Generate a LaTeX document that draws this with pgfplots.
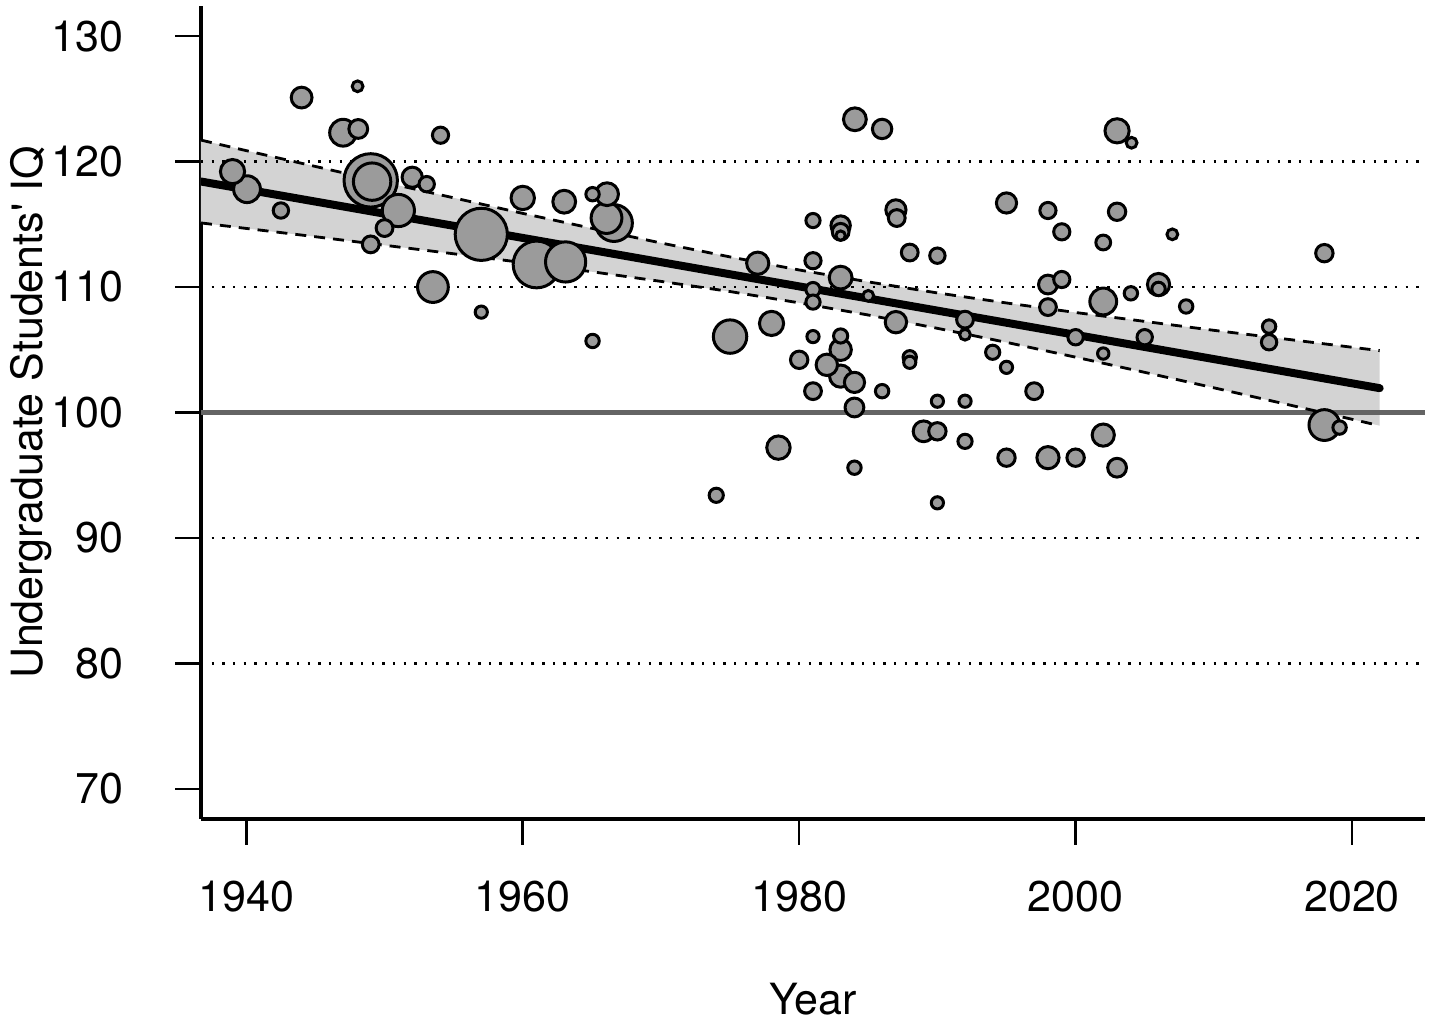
\documentclass[border=0pt]{standalone}
\usepackage{fontspec}
\setmainfont{TeX Gyre Heros}
\usepackage{pgfplots}
\usepackage{pgfplotstable}
\pgfplotsset{compat=1.18}
\usepgfplotslibrary{fillbetween}
\definecolor{bandgray}{RGB}{211,211,211}
\definecolor{ptgray}{RGB}{155,155,155}
\definecolor{refgray}{RGB}{100,100,100}
\newcommand{\lblfont}{\fontsize{21.5}{26}\selectfont}

\pgfplotstableread{
year iq r
1949.0 118.5 27.3
1957.0 114.2 26.7
1961.0 111.8 24
1963.1 112.0 20.7
1949.1 118.4 19.3
1966.6 115.1 19
1975.0 106.05 17.3
1951.0 116.1 16.7
1953.5 110.0 16
1966.06 115.5 16
2018.0 99.0 16
1947.0 122.3 14
1940.05 117.8 14
2002.0 108.85 14
1939.0 119.2 12.7
1978.0 107.1 12.7
2003.0 122.45 12.7
1960.0 117.1 12.3
1978.5 97.2 12.3
1963.0 116.8 12
1966.1 117.4 12
1984.03 123.37 12
1983.0 110.75 12
1977.0 111.9 11.7
1983.0 102.9 11.7
1998.0 96.4 11.7
2006.0 110.2 11.7
2002.0 98.2 11.7
1987.0 107.2 11.3
1983.0 105.0 11.3
1982.0 103.8 11.3
1944.0 125.1 11
1989.0 98.5 11
1952.0 118.75 10.7
1987.0 116.15 10.7
1995.0 116.7 10.7
1984.0 102.4 10.7
1986.0 122.6 10.3
1983.0 114.9 10.3
1948.1 122.6 10
1998.0 110.2 10
1984.0 100.4 10
2003.0 95.6 10
1980.0 104.2 9.3
1990.0 98.5 9.3
1995.0 96.4 9.3
2003.0 116.0 9.3
2018.0 112.7 9.3
2000.0 96.4 9.3
1950.0 114.7 9
1949.0 113.4 9
1987.06 115.5 9
1983.0 114.4 9
1988.0 112.75 9
1998.0 108.4 9
1992.0 107.4 9
1981.0 101.7 9
1997.0 101.7 9
1954.05 122.1 8.7
1998.0 116.1 8.7
1999.0 114.4 8.7
1981.0 112.1 8.7
1999.0 110.6 8.7
1942.5 116.1 8.3
1953.05 118.2 8.3
1990.0 112.5 8.3
2014.0 105.6 8.3
2000.0 106.0 8.3
2005.0 106.0 8.3
2002.0 113.55 8
1981.0 115.3 7.7
1981.0 109.8 7.7
1981.0 108.8 7.7
1983.0 106.1 7.7
1994.0 104.8 7.7
1992.0 97.7 7.7
1974.0 93.4 7.7
1965.05 105.7 7.3
1965.05 117.4 7.3
1988.0 104.4 7.3
1986.0 101.7 7.3
1984.0 95.6 7.3
2004.0 109.5 7.3
2006.0 109.85 7.3
2008.0 108.45 7.3
2014.0 106.85 7.3
2019.1 98.8 7.3
1957.0 108.0 6.7
1981.0 106.05 6.7
1988.0 104.0 6.7
1995.0 103.6 6.7
1990.0 100.9 6.7
1992.0 100.9 6.7
1990.0 92.8 6.7
2002.0 104.7 6.3
1948.05 126.0 6
1985.0 109.3 6
1992.0 106.2 6
2004.05 121.5 6
2007.0 114.2 6
1983.0 114.1 5.3
}\pts

\pgfplotstableread{
year up lo
1936.72 121.71 115.11
1940 120.87 114.67
1945 119.61 114.01
1950 118.35 113.33
1955 117.11 112.65
1960 115.87 111.95
1965 114.68 111.22
1970 113.51 110.45
1975 112.40 109.64
1980 111.36 108.74
1985 110.41 107.77
1990 109.53 106.71
1995 108.73 105.59
2000 107.97 104.41
2005 107.26 103.20
2010 106.55 101.97
2015 105.88 100.72
2020 105.20 99.46
2022 104.93 98.95
}\band

\begin{document}
\begin{tikzpicture}
\begin{axis}[
  at={(0,0)}, anchor=south west,
  scale only axis, width=612pt, height=406.5pt,
  xmin=1936.72, xmax=2025.28, ymin=67.6, ymax=132.4,
  axis x line*=bottom, axis y line*=left,
  axis line style={line width=1.6pt, -},
  xtick={1940,1960,1980,2000,2020},
  ytick={70,80,90,100,110,120,130},
  tick align=outside, major tick length=12.75pt,
  every tick/.style={line width=1.3pt, black},
  tick label style={font=\lblfont},
  xticklabel style={anchor=base, inner sep=0pt, yshift=-33.25pt},
  yticklabel style={anchor=east, inner sep=0pt, xshift=-26pt},
  /pgf/number format/1000 sep={},
  /pgf/number format/assume math mode=true,
]
\addplot[draw=none, name path=up, forget plot] table[x=year, y=up] {\band};
\addplot[draw=none, name path=lo, forget plot] table[x=year, y=lo] {\band};
\addplot[fill=bandgray, draw=none] fill between[of=up and lo];
\addplot[black, line width=1.2pt, dash pattern=on 1.2pt off 4.13pt] coordinates {(1936.72,120) (2025.28,120)};
\addplot[black, line width=1.2pt, dash pattern=on 1.2pt off 4.13pt] coordinates {(1936.72,110) (2025.28,110)};
\addplot[black, line width=1.2pt, dash pattern=on 1.2pt off 4.13pt] coordinates {(1936.72,90) (2025.28,90)};
\addplot[black, line width=1.2pt, dash pattern=on 1.2pt off 4.13pt] coordinates {(1936.72,80) (2025.28,80)};
\addplot[refgray, line width=2.3pt] coordinates {(1936.72,100) (2025.28,100)};
\addplot[black, line width=1.4pt, dash pattern=on 5.5pt off 4pt] table[x=year, y=up] {\band};
\addplot[black, line width=1.4pt, dash pattern=on 5.5pt off 4pt] table[x=year, y=lo] {\band};
\addplot[black, line width=4pt, line cap=round] coordinates {(1936.72,118.41) (2022,101.94)};
\addplot[scatter, only marks, mark=*,
  mark options={line width=1.5pt},
  scatter/use mapped color={draw=black, fill=ptgray},
  visualization depends on={0.5*\thisrow{r}-0.3 \as \msize},
  scatter/@pre marker code/.append style={/tikz/mark size=\msize pt, /tikz/line width=1.5pt}]
  table[x=year, y=iq] {\pts};
\end{axis}
\node[anchor=base, font=\lblfont] at (306pt,-97.5pt) {Year};
\node[anchor=base, rotate=90, font=\lblfont] at (-79pt,203.25pt) {Undergraduate Students\textquotesingle{} IQ};
\pgfresetboundingbox
\path[use as bounding box] (-100.5pt,-103pt) rectangle (615.5pt,409.5pt);
\end{tikzpicture}
\end{document}
